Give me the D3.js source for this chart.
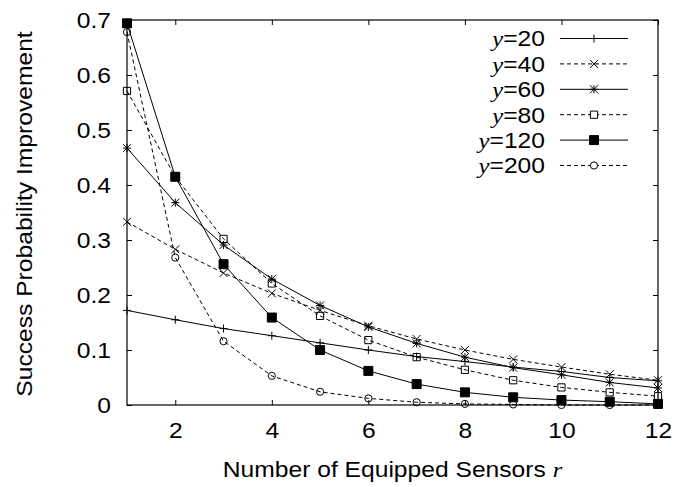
<!DOCTYPE html>
<html>
<head>
<meta charset="utf-8">
<script src="https://cdn.jsdelivr.net/npm/d3@7"></script>
<style>
  body { margin: 0; background: #fff; }
  text { font-family: "Liberation Sans", Arial, Helvetica, sans-serif; fill: #000; }
</style>
</head>
<body>
<div id="chart"></div>
<script>
// number of equipped sensors r
let sensors = [1, 2, 3, 4, 5, 6, 7, 8, 9, 10, 11, 12];
let seriesNames = ["20", "40", "60", "80", "120", "200"];
// success probability improvement, one array per y
let y20  = [0.172, 0.155, 0.139, 0.126, 0.113, 0.100, 0.088, 0.079, 0.069, 0.061, 0.050, 0.044];
let y40  = [0.333, 0.283, 0.240, 0.203, 0.172, 0.144, 0.120, 0.100, 0.083, 0.069, 0.056, 0.045];
let y60  = [0.467, 0.368, 0.291, 0.229, 0.181, 0.142, 0.112, 0.087, 0.068, 0.055, 0.041, 0.031];
let y80  = [0.571, 0.415, 0.302, 0.221, 0.162, 0.118, 0.087, 0.064, 0.045, 0.032, 0.023, 0.016];
let y120 = [0.694, 0.415, 0.256, 0.159, 0.100, 0.062, 0.038, 0.023, 0.014, 0.009, 0.006, 0.002];
let y200 = [0.678, 0.268, 0.116, 0.053, 0.024, 0.012, 0.005, 0.002, 0.001, 0.000, 0.000, 0.000];
let xTicks = [2, 4, 6, 8, 10, 12];
let yTicks = [0, 0.1, 0.2, 0.3, 0.4, 0.5, 0.6, 0.7];

let allSeries = [y20, y40, y60, y80, y120, y200];
let markers = ["plus", "cross", "star", "box", "fbox", "circle"];
let dashed = [false, true, false, true, false, true];

let W = 678, H = 487;
let margin = {top: 20, right: 20, bottom: 82, left: 127};
let width = W - margin.left - margin.right;
let height = H - margin.top - margin.bottom;
// the original lettering is a bit wider than Liberation Sans
let sx = 1.12;

let svg = d3.select("#chart").append("svg")
  .attr("width", W).attr("height", H);
let g = svg.append("g")
  .attr("transform", "translate(" + margin.left + "," + margin.top + ")");

let x = d3.scaleLinear().domain([1, 12]).range([0, width]);
let y = d3.scaleLinear().domain([0, 0.7]).range([height, 0]);

// axes, ticks pointing inward
g.append("g").attr("transform", "translate(0," + height + ")")
  .call(d3.axisBottom(x).tickValues(xTicks).tickSizeInner(-5).tickSizeOuter(0).tickPadding(17).tickFormat(d3.format("d")));
g.append("g")
  .call(d3.axisLeft(y).tickValues(yTicks).tickSizeInner(-5).tickSizeOuter(0).tickPadding(16).tickFormat(d => d === 0 ? "0" : d3.format(".1f")(d)));
g.append("g")
  .call(d3.axisTop(x).tickValues(xTicks).tickSizeInner(-5).tickSizeOuter(0).tickFormat(""));
g.append("g").attr("transform", "translate(" + width + ",0)")
  .call(d3.axisRight(y).tickValues(yTicks).tickSizeInner(-5).tickSizeOuter(0).tickFormat(""));
g.selectAll(".domain").remove();
g.selectAll(".tick line").attr("stroke", "#000");
g.selectAll(".tick text")
  .style("font-size", "22px").attr("fill", "#000")
  .each(function() {
    let t = d3.select(this);
    t.attr("x", (+t.attr("x") || 0) / sx).attr("transform", "scale(" + sx + ",1)");
  });

g.append("rect")
  .attr("width", width).attr("height", height)
  .attr("fill", "none").attr("stroke", "#000").attr("stroke-width", 1.2);

function markerPath(type, s) {
  let p = d3.path();
  if (type === "plus" || type === "star") {
    p.moveTo(-s, 0); p.lineTo(s, 0);
    p.moveTo(0, -s); p.lineTo(0, s);
  }
  if (type === "cross" || type === "star") {
    p.moveTo(-s, -s); p.lineTo(s, s);
    p.moveTo(-s, s); p.lineTo(s, -s);
  }
  if (type === "box" || type === "fbox") {
    p.rect(-s, -s, 2 * s, 2 * s);
  }
  if (type === "circle") {
    p.moveTo(s, 0); p.arc(0, 0, s, 0, 2 * Math.PI);
  }
  return p.toString();
}
function markerSize(type) {
  if (type === "fbox") return 4.5;
  if (type === "box" || type === "circle") return 3.6;
  return 4;
}

let line = d3.line()
  .x((d, i) => x(sensors[i]))
  .y(d => y(d));

allSeries.forEach(function(vals, k) {
  g.append("path")
    .datum(vals)
    .attr("d", line)
    .attr("fill", "none")
    .attr("stroke", "#000")
    .attr("stroke-width", 1)
    .attr("stroke-dasharray", dashed[k] ? "4,3" : null);
});

allSeries.forEach(function(vals, k) {
  let type = markers[k];
  g.selectAll(".m" + k)
    .data(vals)
    .enter().append("path")
    .attr("transform", (d, i) => "translate(" + x(sensors[i]) + "," + y(d) + ")")
    .attr("d", markerPath(type, markerSize(type)))
    .attr("fill", type === "fbox" ? "#000" : "none")
    .attr("stroke", "#000")
    .attr("stroke-width", 1);
});

// legend
let legend = svg.append("g");
seriesNames.forEach(function(name, k) {
  let ly = 38.5 + k * 25.4;
  let t = legend.append("text")
    .attr("x", 545 / sx).attr("y", ly).attr("dy", "0.36em")
    .attr("transform", "scale(" + sx + ",1)")
    .attr("text-anchor", "end")
    .style("font-size", "22px");
  t.append("tspan").text("y")
    .style("font-family", "'Liberation Serif', 'Times New Roman', serif")
    .style("font-style", "italic");
  t.append("tspan").text("=" + name);
  legend.append("line")
    .attr("x1", 560).attr("x2", 628).attr("y1", ly).attr("y2", ly)
    .attr("stroke", "#000").attr("stroke-width", 1)
    .attr("stroke-dasharray", dashed[k] ? "4,3" : null);
  let type = markers[k];
  legend.append("path")
    .attr("transform", "translate(594," + ly + ")")
    .attr("d", markerPath(type, markerSize(type)))
    .attr("fill", type === "fbox" ? "#000" : "#fff")
    .attr("stroke", "#000").attr("stroke-width", 1);
});

// axis titles
let xt = svg.append("text")
  .attr("transform", "translate(" + (margin.left + width / 2) + ",477) scale(" + sx + ",1)")
  .attr("text-anchor", "middle")
  .style("font-size", "22px");
xt.append("tspan").text("Number of Equipped Sensors ");
xt.append("tspan").text("r")
  .style("font-family", "'Liberation Serif', 'Times New Roman', serif")
  .style("font-style", "italic");

svg.append("text")
  .attr("transform", "translate(32,214) rotate(-90) scale(" + sx + ",1)")
  .attr("text-anchor", "middle")
  .style("font-size", "22px")
  .text("Success Probability Improvement");
</script>
</body>
</html>
